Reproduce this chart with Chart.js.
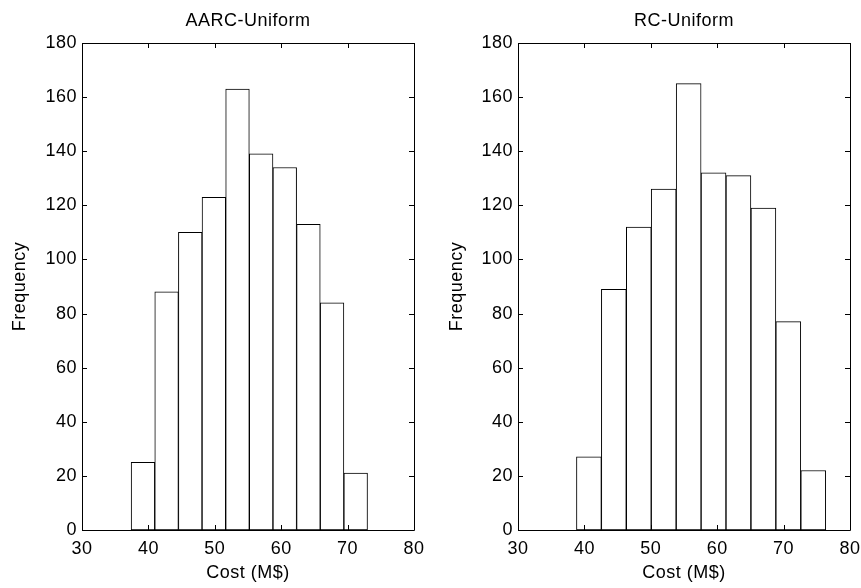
<!DOCTYPE html>
<html>
<head>
<meta charset="utf-8">
<script src="https://cdn.jsdelivr.net/npm/chart.js@4/dist/chart.umd.min.js"></script>
<style>
  body { margin: 0; background: #fff; }
  #wrap { position: relative; width: 861px; height: 588px; }
  canvas { position: absolute; top: 0; }
</style>
</head>
<body>
<div id="wrap">
  <canvas id="left" width="430" height="588" style="left:0"></canvas>
  <canvas id="right" width="431" height="588" style="left:430px"></canvas>
</div>
<script>
// bin centres (M$) and counts
const aarcCenters = [39.18, 42.74, 46.30, 49.86, 53.42, 56.98, 60.54, 64.10, 67.66, 71.22];
const aarcCounts = [25, 88, 110, 123, 163, 139, 134, 113, 84, 21];

const rcCenters = [40.68, 44.43, 48.19, 51.94, 55.70, 59.45, 63.20, 66.96, 70.71, 74.47];
const rcCounts = [27, 89, 112, 126, 165, 132, 131, 119, 77, 22];

const xTicks = [30, 40, 50, 60, 70, 80];
const yTicks = [0, 20, 40, 60, 80, 100, 120, 140, 160, 180];

Chart.defaults.font.family = "'Liberation Sans', Arial, sans-serif";
Chart.defaults.font.size = 18;
Chart.defaults.color = "#000";

// the reference text is a little loosely spaced
const spacing = {
    id: "spacing",
    beforeLayout(chart) { chart.ctx.letterSpacing = "0.5px"; },
    beforeDraw(chart) { chart.ctx.letterSpacing = "0.5px"; },
};

// matlab style box with inward ticks on all four sides
const boxTicks = {
    id: "boxTicks",
    afterDraw(chart) {
        const { ctx, chartArea: a, scales } = chart;
        const len = 5;
        ctx.save();
        ctx.strokeStyle = "#000";
        ctx.lineWidth = 1;
        ctx.beginPath();
        ctx.rect(Math.round(a.left) + 0.5, Math.round(a.top) + 0.5,
            Math.round(a.right - a.left), Math.round(a.bottom - a.top));
        scales.x.ticks.forEach((t) => {
            const px = Math.round(scales.x.getPixelForValue(t.value)) + 0.5;
            ctx.moveTo(px, a.bottom);
            ctx.lineTo(px, a.bottom - len);
            ctx.moveTo(px, a.top);
            ctx.lineTo(px, a.top + len);
        });
        scales.y.ticks.forEach((t) => {
            const py = Math.round(scales.y.getPixelForValue(t.value)) + 0.5;
            ctx.moveTo(a.left, py);
            ctx.lineTo(a.left + len, py);
            ctx.moveTo(a.right, py);
            ctx.lineTo(a.right - len, py);
        });
        ctx.stroke();
        ctx.restore();
    },
};

function makeHist(id, title, centers, counts, yWidth, padLeft, padRight) {
    const ctx = document.getElementById(id).getContext("2d");
    return new Chart(ctx, {
        type: "bar",
        data: {
            datasets: [
                {
                    data: centers.map((c, i) => ({ x: c, y: counts[i] })),
                    backgroundColor: "#fff",
                    borderColor: "#000",
                    borderWidth: 1,
                    borderSkipped: false,
                    barPercentage: 1,
                    categoryPercentage: 1,
                },
            ],
        },
        options: {
            responsive: false,
            animation: false,
            devicePixelRatio: 1,
            layout: {
                padding: { top: 0, left: padLeft, right: padRight, bottom: 0 },
            },
            scales: {
                x: {
                    type: "linear",
                    min: 30,
                    max: 80,
                    offset: false,
                    grid: { display: false, drawTicks: false, offset: false },
                    border: { display: false },
                    afterBuildTicks: (s) => { s.ticks = xTicks.map((v) => ({ value: v })); },
                    afterFit: (s) => {
                        s.height = 58;
                        s.paddingLeft = 0;
                        s.paddingRight = 0;
                    },
                    ticks: { padding: 8, maxRotation: 0 },
                    title: { display: true, text: "Cost (M$)", padding: { top: 4, bottom: 4 } },
                },
                y: {
                    min: 0,
                    max: 180,
                    grid: { display: false, drawTicks: false },
                    border: { display: false },
                    afterBuildTicks: (s) => { s.ticks = yTicks.map((v) => ({ value: v })); },
                    afterFit: (s) => {
                        s.width = yWidth;
                        s.paddingTop = 0;
                        s.paddingBottom = 0;
                    },
                    ticks: { padding: 5 },
                    title: { display: true, text: "Frequency", padding: { top: 9, bottom: 4 } },
                },
            },
            plugins: {
                legend: { display: false },
                tooltip: { enabled: false },
                title: {
                    display: true,
                    text: title,
                    fullSize: false, // centre over the plot box, not the canvas
                    font: { size: 18, weight: "normal" },
                    padding: { top: 10, bottom: 11.4 },
                },
            },
        },
        plugins: [spacing, boxTicks],
    });
}

makeHist("left", "AARC-Uniform", aarcCenters, aarcCounts, 82, 0, 16);
makeHist("right", "RC-Uniform", rcCenters, rcCounts, 81, 7, 11);
</script>
</body>
</html>
